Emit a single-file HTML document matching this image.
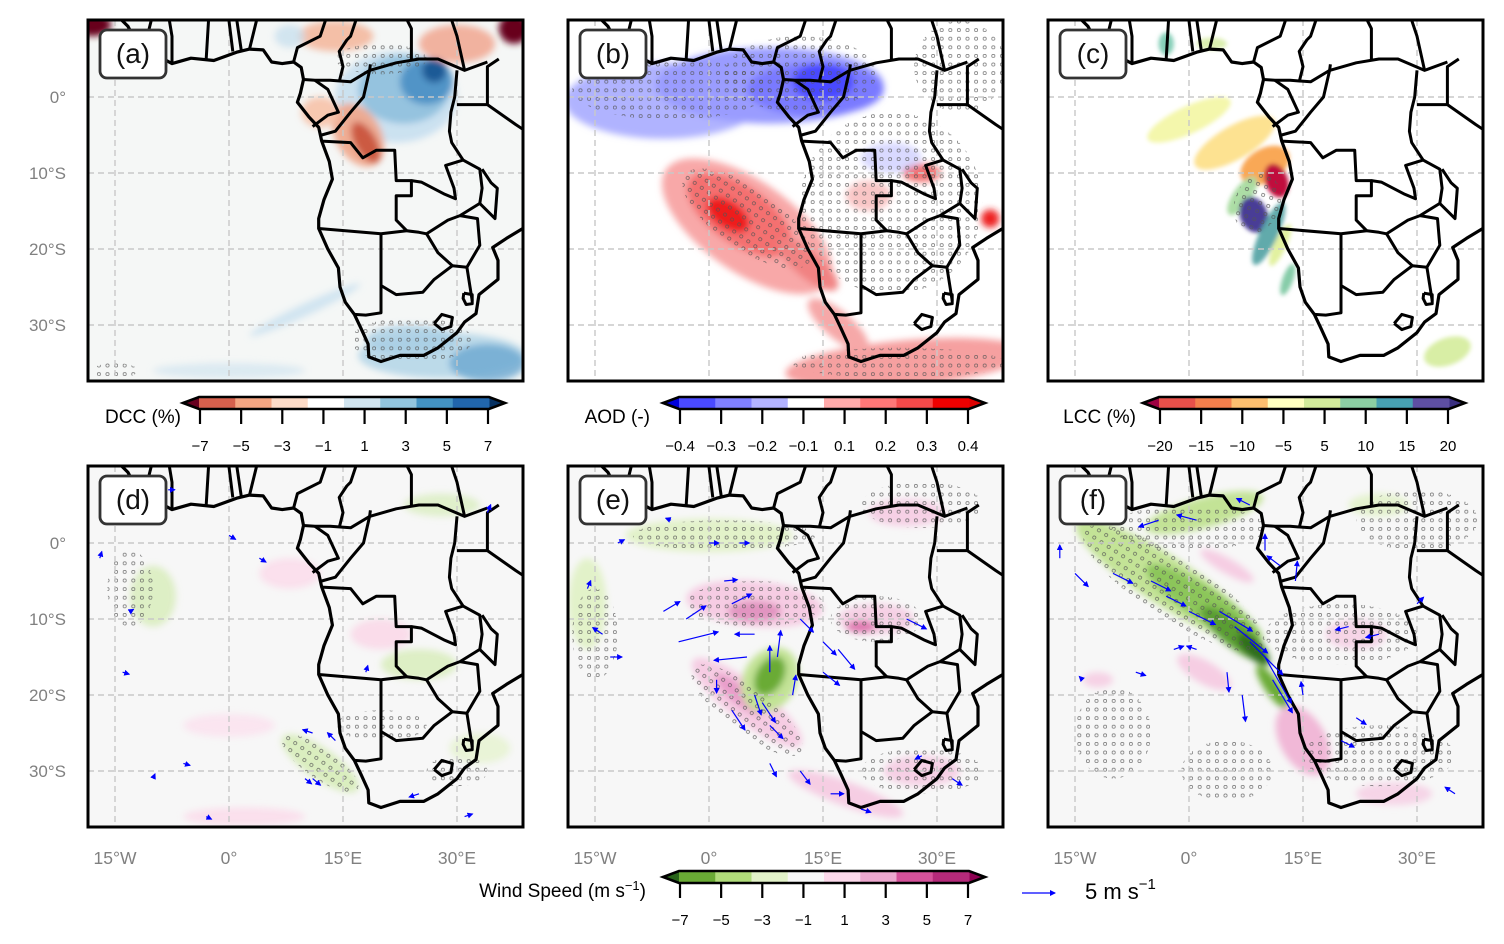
<!DOCTYPE html>
<html><head><meta charset="utf-8">
<style>
html,body{margin:0;padding:0;background:#fff;}
svg{display:block;font-family:"Liberation Sans","DejaVu Sans",sans-serif;}
</style></head>
<body>
<svg id="fig" width="1504" height="944" viewBox="0 0 1504 944" xmlns="http://www.w3.org/2000/svg">
<defs>
<filter id="blur" x="-50%" y="-50%" width="200%" height="200%"><feGaussianBlur stdDeviation="3.5"/></filter>
<filter id="blur2" x="-50%" y="-50%" width="200%" height="200%"><feGaussianBlur stdDeviation="2"/></filter>
<pattern id="stip" width="8.6" height="8.6" patternUnits="userSpaceOnUse"><circle cx="4.3" cy="4.3" r="1.6" fill="none" stroke="#555" stroke-width="0.7"/></pattern>
<marker id="ah" markerWidth="6" markerHeight="6" refX="5" refY="3" orient="auto" markerUnits="userSpaceOnUse"><path d="M0,0 L6,3 L0,6 z" fill="#0000ff"/></marker>
</defs>
<g id="root"></g>
</svg>
<script>
// ---- data arrays ----
const panelLabels = ["(a)","(b)","(c)","(d)","(e)","(f)"];
const latTicks = [0,-10,-20,-30];
const latTickLabels = ["0°","10°S","20°S","30°S"];
const lonTicks = [-15,0,15,30];
const lonTickLabels = ["15°W","0°","15°E","30°E"];
const dccTicks = ["−7","−5","−3","−1","1","3","5","7"];
const dccColors = ["#67001f","#d6604d","#f4a582","#fddbc7","#ffffff","#d1e5f0","#92c5de","#4393c3","#2166ac","#053061"];
const aodTicks = ["−0.4","−0.3","−0.2","−0.1","0.1","0.2","0.3","0.4"];
const aodColors = ["#0000dd","#4a4aff","#8080ff","#b3b3ff","#ffffff","#ffaaaa","#ff7777","#f54a4a","#ee0000","#dd0000"];
const lccTicks = ["−20","−15","−10","−5","5","10","15","20"];
const lccColors = ["#9e0142","#e8504a","#f47f4c","#fdbf6f","#ffffbf","#d2eb9b","#8ccea3","#47a0b2","#5e4fa2","#3a2f80"];
const wsTicks = ["−7","−5","−3","−1","1","3","5","7"];
const wsColors = ["#276419","#6aab35","#b0dc7a","#e2f2c9","#f7f7f7","#fbd9ea","#eda8cf","#d5529a","#b52a7a","#8e0152"];

// blobs: [lon, lat, rxDeg, ryDeg, rotDeg, color, opacity]
const blobsA = [[22,0,8,6,0,"#c6dff0",0.9],[23,1,6,4.5,0,"#8fc0de",0.9],[26,2,3.5,3,0,"#4a8fc4",0.9],[27,3.5,1.6,1.6,0,"#1c5a96",1],[17,-5,3,4.5,-30,"#efa58a",0.9],[18,-6,1.4,3,-30,"#c9503a",0.9],[12,-2,2.5,2,0,"#f7c2a8",0.9],[14,8,5,2,0,"#f4b094",0.8],[30,7,5,2.5,0,"#f0a08a",0.8],[8,8,2,1.5,0,"#c9e0ee",0.8],[37.5,9,2,2,0,"#67001f",1],[-18,9.5,2.5,1.5,0,"#67001f",1],[28,-34,11,3,0,"#b6d6e8",0.9],[34,-35,5,2.5,0,"#6aa6d0",0.8],[24,-32,6,2,0,"#a6cde3",0.8],[10,-28,8,0.8,-25,"#c8e0ef",0.8],[0,-36,10,1,0,"#d0e4f0",0.7]];
const blobsB = [[-6,-0.5,13,5,0,"#b0b3ff",1],[8,1.5,15,5,0,"#9a9cff",1],[14,1,9,3.5,0,"#7a7aff",1],[15,2,4,2.5,0,"#4a4aff",1],[5,-17,13,6,35,"#f8a8a8",1],[4,-15.5,8,3.8,35,"#f47070",1],[2.5,-15.5,3.2,1.8,35,"#ee1c1c",1],[13,-22,5,1.8,40,"#f08080",0.95],[26,-35,16,3,-5,"#f6a0a0",1],[17,-30,5,1.8,40,"#f6a8a8",1],[21,-13,3,2,0,"#f8b8b8",0.8],[28,-10,2.5,1.2,0,"#f06060",0.9],[37,-16,1.2,1.2,0,"#ee2020",1],[24,-8,4,2,0,"#c0c0ff",0.6]];
const blobsC = [[0,-3,6,1.8,-25,"#f3f7a8",0.95],[6,-6,6,2.2,-30,"#fde08b",0.95],[10,-9,3.5,2.2,-30,"#f9a34e",0.95],[11.5,-11,1.5,2.3,-20,"#c0103d",1],[7,-13,3,1.2,-55,"#a8dba0",0.95],[8.5,-15.5,1.8,2.4,-20,"#4a3e96",1],[10.5,-18,1.2,4.5,25,"#5aa5a6",0.95],[12,-19.5,0.8,3,25,"#e0f09a",0.95],[13,-24,0.7,2.2,20,"#7fc9a4",0.95],[34,-33.5,3.2,1.8,-20,"#d6eda0",0.95],[-3,7,1,1.5,0,"#66c2a5",0.8],[3,7,2,0.8,0,"#d2eb9b",0.8]];
const blobsD = [[-10,-7,3,4,0,"#d6ecb8",0.8],[12,-29,6,2,35,"#d6ecb8",0.9],[8,-4,4,2,0,"#fbd9ea",0.8],[25,-16,5,2,0,"#d6ecb8",0.8],[0,-24,6,1.5,0,"#fbe0ee",0.8],[28,5,5,1.5,0,"#d6ecb8",0.7],[2,-36,8,1.2,0,"#fbd9ea",0.8],[20,-12,4,2,0,"#fbd0e4",0.7],[33,-27,4,2,0,"#e2f2c9",0.7]];
const blobsE = [[0,1,11,2.2,0,"#e2f2c9",1],[6,-8,9,3,5,"#f6cce3",1],[6,-9,3.5,1.4,0,"#e08fbd",0.9],[-16,-8,2.5,6,0,"#e2f2c9",1],[5,-21,9,2.5,38,"#f6cce3",1],[4,-20,4,1.2,40,"#e898c6",0.9],[18,-33,8,1.6,20,"#f6cde3",1],[8,-18,3.5,4.5,30,"#c3e396",1],[8,-17.5,1.8,2.8,30,"#6aab35",1],[22,-10,5,2,0,"#f6cce3",0.9],[28,-30,5,2,0,"#f6cce3",0.9],[26,4,5,1.8,0,"#f6cce3",0.9],[20,-11,2,0.8,0,"#d5529a",0.7]];
const blobsF = [[-3,-5,14,3.2,33,"#c3e396",1],[2,-8,9,2.2,33,"#8cc65a",1],[6,-12,5.5,1.7,38,"#5a9e32",1],[8.5,-14,2.8,1.1,45,"#2e6e1c",1],[11,-19,3.5,1,55,"#6aab35",1],[2,4,8,2,-15,"#c3e396",1],[5,-3,4,1,30,"#f6cde3",1],[15,-26,3,5,-30,"#f1b8d7",1],[2,-17,4,1.5,30,"#f6cde3",1],[22,-12,4,2,0,"#f6cce3",0.8],[27,-33,5,1.5,0,"#f6cce3",0.8],[-12,-18,2,1,0,"#f6cde3",0.9],[25,5,4,1.5,0,"#e2f2c9",0.9]];
const blobSets = [blobsA,blobsB,blobsC,blobsD,blobsE,blobsF];
const bgColors = ["#f5f7f6","#ffffff","#ffffff","#f7f7f7","#f7f7f7","#f7f7f7"];

// stippled regions: [lon, lat, rxDeg, ryDeg, rot]
const stipA = [[24,-32,8,3,0],[20,5,6,2,0],[-15,-36,3,1,0]];
const stipB = [[-5,1,13,4,0],[12,3,10,5,0],[24,-14,12,12,0],[5,-16,10,4,35],[25,-35,14,2,0],[33,4,6,6,0]];
const stipC = [[9,-14,3,4,20]];
const stipD = [[-13,-6,3,5,0],[12,-29,6,2,35],[20,-24,6,2,0],[30,-30,4,2,0]];
const stipE = [[2,1,12,2,0],[6,-8,9,3,0],[5,-22,9,3,38],[28,-30,8,3,0],[22,-10,6,3,0],[-15,-12,3,6,0],[28,5,8,3,0]];
const stipF = [[-2,-6,14,4,33],[0,2,10,3,0],[20,-12,10,4,0],[25,-28,10,4,0],[-10,-25,5,6,0],[5,-30,6,4,0],[30,3,8,4,0]];
const stipSets = [stipA,stipB,stipC,stipD,stipE,stipF];

// wind arrows: [lon, lat, u, v] (m/s)
const windD = [[-17,-2,0.3,1],[-14,-17,1,-0.3],[-13,-9,0.5,0.3],[0,1,1,-0.6],[4,-2,1,-0.6],[11,-25,-1.5,0.5],[14,-26,-1.2,1.2],[11,-31,1.2,-1],[-6,-29,1,-0.3],[-3,-36,0.8,-0.4],[25,-33,-1.5,-0.5],[31,-36,1.2,0.4],[34,4,0.5,1.2],[-8,7,1,0],[18,-17,0.3,1],[10,-31,1,-0.8],[-10,-31,0.3,0.7]];
const windE = [[-6,-9,2.5,1.5],[-3,-10,3,2],[3,-8,3,1.5],[-4,-13,6,1.5],[6,-12,-3,0],[5,-15,-5,-0.5],[1,-18,0,-2],[6,-20,1,-3],[8,-17,0,4],[9,-15,0.5,4],[11,-20,0.5,3],[3,-22,2,-3],[7,-21,2,-3],[8,-24,2,-2],[12,-10,2,-2],[15,-13,2,-2],[17,-14,2.5,-3],[15,-17,2.5,-2],[-14,-12,-1.5,1],[-13,-15,1.8,0],[-16,-6,0.5,1.2],[2,-5,2,0.2],[0,0,1.5,0],[4,0,1.5,0],[26,-10,3,-1.5],[12,-30,1.5,-2],[8,-29,1,-2],[16,-33,2,0],[20,-35,1.5,-0.5],[32,-31,1.5,-1],[28,-28,-1,-0.5],[-5,3,-0.8,0.3],[-12,0,1,0.5]];
const windF = [[-17,-2,0,2],[-15,-4,2,-2],[-10,-4,3,-1.5],[-5,-5,3,-1.5],[-3,-7,3,-1.5],[0,-9,4,-2],[4,-9,5,-3],[6,-11,5,-4],[8,-13,5,-5],[10,-15,4,-7],[11,-18,3,-5],[5,-17,0.3,-3],[7,-20,0.5,-4],[1,-14,-1.5,0.5],[-2,-14,1.5,0.5],[-7,-17,1.5,-0.5],[-14,-18,-0.5,0.5],[1,3,-3,0.8],[-4,3,-3,-1],[-12,6,-3,0],[8,5,-2,1],[10,-1,0,2.5],[14,-5,0.3,3],[21,-11,-2,-0.5],[25,-12,-2,-0.5],[15,-20,-0.3,2],[20,-26,2,-1],[22,-23,1.5,-1],[35,-33,-1.5,1],[12,-3,-2,1.5],[30,-8,1,1]];
const windSets = [null,null,null,windD,windE,windF];

// ---- geometry (borders in lon/lat) ----
const coast = [[-15.5,11.5],[-14.5,10.5],[-13.3,9.3],[-12.5,7.8],[-11,6.8],[-9.5,5.5],[-7.5,4.4],[-5,5.1],[-2,4.8],[1,5.9],[2.7,6.3],[4.5,6.2],[5.6,4.6],[7,4.4],[8.5,4.6],[9.5,3.9],[9.8,2.3],[9.4,0.5],[9,-0.7],[10.5,-2.6],[11.8,-4],[12.2,-5.8],[13.2,-8.5],[13.6,-10.8],[12.5,-13.5],[11.8,-16],[11.8,-17.3],[13,-20],[14.4,-22.5],[14.6,-25],[15.3,-27],[16.5,-28.6],[17.4,-30.5],[18.3,-32.5],[18.4,-34.2],[20,-34.8],[22.5,-34],[25.6,-34],[27.5,-33],[30,-31],[31,-29.6],[32.5,-28.5],[32.9,-26],[35.4,-24],[35.4,-21.5],[34.7,-19.8],[36.5,-18.6],[39.5,-16.8]];
const borders = [
[[12.2,-5.8],[16,-6],[17.6,-8],[19.4,-7],[21.8,-7],[22,-11],[24,-11],[24,-13],[22,-13],[22,-16.2],[23.4,-17.6],[20,-18],[11.8,-17.3]],
[[23.4,-17.6],[25,-17.8],[26,-18],[28.8,-16.2],[30.4,-15.6],[33,-14],[33.3,-12],[33,-9.5],[30.8,-8.3],[28.5,-9],[29.6,-12],[29.8,-13.4],[28.4,-12.8],[25.3,-11.2],[24,-11]],
[[20,-18],[20,-22],[20,-24.8],[20,-28.4],[18,-28.7],[16.5,-28.6]],
[[20,-22],[20,-24.8],[22,-26],[25.5,-25.7],[27,-24],[29.4,-22.2],[27.5,-20.5],[26,-18]],
[[29.4,-22.2],[31.3,-22.4],[33,-19.5],[32.7,-16],[30.4,-15.6]],
[[31.3,-22.4],[32,-26.8]],
[[33,-14],[35,-16],[35.3,-12],[34.5,-11.3],[33.3,-9.5]],
[[12.2,-5],[14,-4.5],[16,-2],[17.7,0],[18.5,3.5],[18.6,4.3]],
[[11.3,2.2],[13,1],[14.4,-2],[13,-2.4],[11,-3.9]],
[[9.8,2.3],[11.3,2.2],[13.3,2.2],[16,2],[18.5,3.5],[22,4.5],[25,5],[27.5,5],[31,3.5],[34,4.6]],
[[14.5,2],[15,4],[14.5,6],[15.5,7.5],[16,8],[17,11]],
[[8.5,4.6],[9,6.5],[12,8],[13,11]],
[[30,3.5],[29.7,0],[29.2,-2],[29,-4.5],[29.3,-6],[30.8,-8.3]],
[[30,-1],[34,-1],[37.7,-3.6],[39.5,-4.8]],
[[34,-1],[34,4],[35.5,5]],
[[-3,5],[-2.7,10],[-3,11]],[[0.5,6],[0,10],[0,11]],[[1.6,6.2],[0.9,11]],[[2.7,6.3],[3.6,10],[3.6,11]],
[[-7.5,4.4],[-7.5,8],[-8,11]],[[-11,6.8],[-10.5,9],[-10,11]],
[[31,3.5],[30,8],[29,11]],[[24,5],[24,9],[23,11]]
];
const lesotho = [[27,-29.8],[28,-28.6],[29.4,-29],[29.2,-30.2],[28,-30.6],[27,-29.8]];
const eswatini = [[30.9,-25.8],[32,-26],[32,-27.2],[31.2,-27.3],[30.8,-26.5],[30.9,-25.8]];

// ---- layout ----
const panels = [[88,20],[568,20],[1048,20],[88,466],[568,466],[1048,466]];
const PW=435, PH=361, SC=7.6;
const root = document.getElementById('root');
const NS='http://www.w3.org/2000/svg';
function el(tag, attrs, parent){const e=document.createElementNS(NS,tag);for(const k in attrs)e.setAttribute(k,attrs[k]);(parent||root).appendChild(e);return e;}
function X(p,lon){return panels[p][0]+141+lon*SC;}
function Y(p,lat){return panels[p][1]+77-lat*SC;}
function pathOf(p,pts){return pts.map((q,i)=>(i?'L':'M')+X(p,q[0]).toFixed(1)+','+Y(p,q[1]).toFixed(1)).join(' ');}

for(let p=0;p<6;p++){
  const [px,py]=panels[p];
  const cp=el('clipPath',{id:'clip'+p},document.querySelector('defs'));
  el('rect',{x:px,y:py,width:PW,height:PH},cp);
  const g=el('g',{'clip-path':'url(#clip'+p+')'});
  
  
  el('rect',{x:px,y:py,width:PW,height:PH,fill:bgColors[p]},g);
  const bg=el('g',{filter: p===2?'url(#blur2)':'url(#blur)'},g);
  
  
  for(const b of blobSets[p]){
    const e=el('ellipse',{cx:X(p,b[0]),cy:Y(p,b[1]),rx:b[2]*SC,ry:b[3]*SC,fill:b[5],opacity:b[6],transform:`rotate(${b[4]} ${X(p,b[0])} ${Y(p,b[1])})`},bg);
    
    
  }
  for(const s of stipSets[p]){
    const e=el('ellipse',{cx:X(p,s[0]),cy:Y(p,s[1]),rx:s[2]*SC,ry:s[3]*SC,fill:'url(#stip)',opacity:0.85,transform:`rotate(${s[4]} ${X(p,s[0])} ${Y(p,s[1])})`},g);
    
    
  }
  for(const t of lonTicks){const l=el('line',{x1:X(p,t),x2:X(p,t),y1:py,y2:py+PH,stroke:'#c8c8c8','stroke-width':1.4,'stroke-dasharray':'6,4'},g);}
  for(const t of latTicks){const l=el('line',{x1:px,x2:px+PW,y1:Y(p,t),y2:Y(p,t),stroke:'#c8c8c8','stroke-width':1.4,'stroke-dasharray':'6,4'},g);}
  const c=el('path',{d:pathOf(p,coast),fill:'none',stroke:'#000','stroke-width':3.2,'stroke-linejoin':'round'},g);
  
  
  for(const b of borders.concat([lesotho,eswatini])){
    const e=el('path',{d:pathOf(p,b),fill:'none',stroke:'#000','stroke-width':3,'stroke-linejoin':'round'},g);
    
    
  }
  if(windSets[p]){
    for(const w of windSets[p]){
      const x0=X(p,w[0]), y0=Y(p,w[1]);
      const k=33/5;
      const a=el('line',{x1:x0,y1:y0,x2:x0+w[2]*k,y2:y0-w[3]*k,stroke:'#0000ff','stroke-width':1.2,'marker-end':'url(#ah)'},g);
      
      
    }
  }
  const lb=el('rect',{x:px+12,y:py+10,width:66,height:48,rx:7,fill:'#fff',stroke:'#333','stroke-width':2.8},g);
  
  
  const lt=el('text',{x:px+45,y:py+43,'font-size':28,'text-anchor':'middle',fill:'#111'},g);
  lt.textContent=panelLabels[p];
  
  
  const fr=el('rect',{x:px,y:py,width:PW,height:PH,fill:'none',stroke:'#000','stroke-width':3});
  
  
  if(p===0||p===3){
    latTicks.forEach((t,i)=>{const tx=el('text',{x:px-22,y:Y(p,t)+6,'font-size':17,'text-anchor':'end',fill:'#808080'});tx.textContent=latTickLabels[i];});
  }
  if(p>=3){
    lonTicks.forEach((t,i)=>{const tx=el('text',{x:X(p,t),y:py+PH+37,'font-size':17.5,'text-anchor':'middle',fill:'#808080'});tx.textContent=lonTickLabels[i];});
  }
}

function colorbar(x0,y0,colors,ticks,label,labelX,name){
  const g=el('g',{});
  
  
  const L=x0+16, R=x0+306, H=12, w=(R-L)/8;
  el('path',{d:`M${x0},${y0+H/2} L${L},${y0} L${L},${y0+H} z`,fill:colors[0]},g);
  el('path',{d:`M${x0+322},${y0+H/2} L${R},${y0} L${R},${y0+H} z`,fill:colors[9]},g);
  for(let i=0;i<8;i++) el('rect',{x:L+i*w,y:y0,width:w+0.5,height:H,fill:colors[i+1]},g);
  el('path',{d:`M${x0},${y0+H/2} L${L},${y0} L${R},${y0} L${x0+322},${y0+H/2} L${R},${y0+H} L${L},${y0+H} z`,fill:'none',stroke:'#000','stroke-width':2.6},g);
  const tk0=L+1, tk1=R-1;
  ticks.forEach((t,i)=>{
    const tx=tk0+(tk1-tk0)*i/7;
    el('line',{x1:tx,x2:tx,y1:y0+H,y2:y0+H+15,stroke:'#000','stroke-width':2.2},g);
    const tt=el('text',{x:tx,y:y0+H+42,'font-size':15,'text-anchor':'middle',fill:'#000'},g);
    tt.textContent=t;
    
    
  });
  const lt=el('text',{x:labelX,y:y0+H+14,'font-size':19,'text-anchor':'end',fill:'#000'},g);
  lt.innerHTML=label;
  
  
}
colorbar(183,397,dccColors,dccTicks,'DCC (%)',181,'dcc-colorbar');
colorbar(663,397,aodColors,aodTicks,'AOD (-)',650,'aod-colorbar');
colorbar(1143,397,lccColors,lccTicks,'LCC (%)',1136,'lcc-colorbar');
colorbar(663,871,wsColors,wsTicks,'Wind Speed (m s<tspan dy="-7" font-size="13">−1</tspan><tspan dy="7">)</tspan>',646,'wind-speed-colorbar');

const qk=el('line',{x1:1022,y1:893,x2:1055,y2:893,stroke:'#0000ff','stroke-width':1.2,'marker-end':'url(#ah)'});


const qt=el('text',{x:1085,y:899,'font-size':22,fill:'#000'});
qt.innerHTML='5 m s<tspan dy="-10" font-size="15">−1</tspan>';


</script>
</body></html>
